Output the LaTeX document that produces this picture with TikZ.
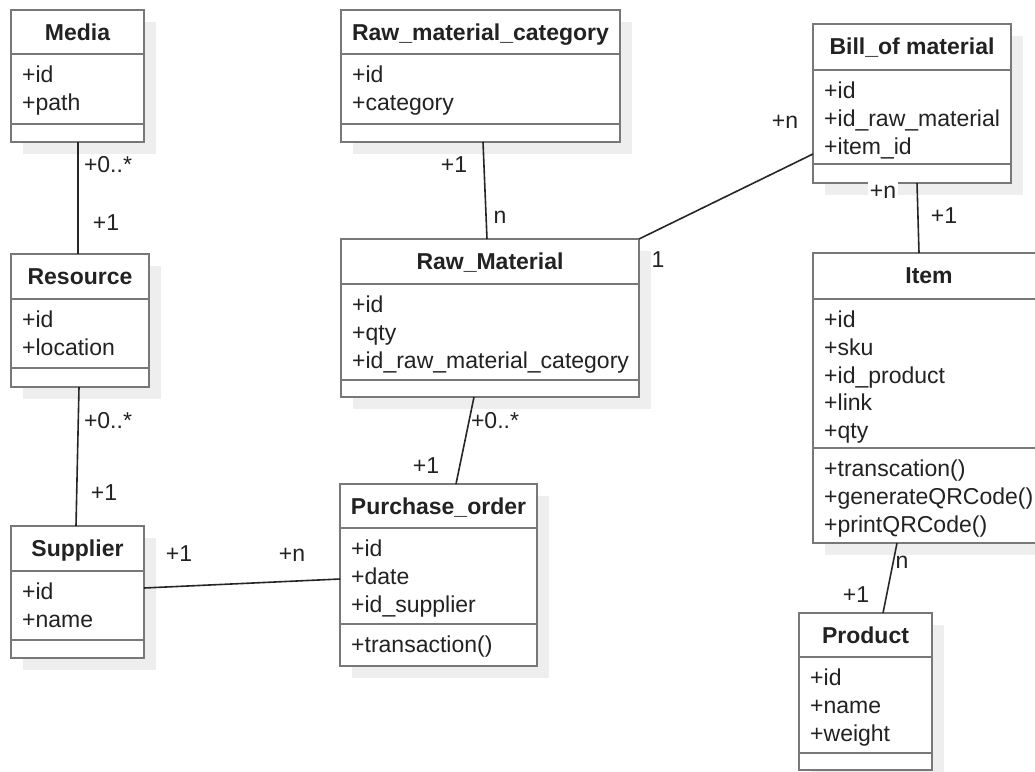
\documentclass[tikz,border=0pt]{standalone}
\usepackage{fontspec}
\setmainfont{Liberation Sans}
\usetikzlibrary{calc,shadows}

\definecolor{umlborder}{HTML}{787878}
\definecolor{umlshadow}{HTML}{EEEEEE}
\definecolor{umltext}{HTML}{222222}
\definecolor{umlline}{HTML}{262626}

\newcommand\umlfont{\fontsize{23}{27.6}\selectfont}

\tikzset{
  classbox/.style={draw=umlborder, line width=2.6pt, fill=white, anchor=north west,
    inner sep=0pt, outer sep=0pt,
    drop shadow={shadow xshift=12pt, shadow yshift=-12pt, fill=umlshadow, opacity=1}},
  classrule/.style={draw=umlborder, line width=2.6pt},
  classname/.style={font=\umlfont\bfseries, text=umltext, anchor=base, inner sep=0pt},
  members/.style={font=\umlfont, text=umltext, anchor=north west, align=left, inner sep=0pt},
  assoc/.style={draw=umlline, line width=1.6pt},
  mult/.style={font=\umlfont, text=umltext, anchor=base, inner sep=0pt},
}

% #1 name, #2 top-left corner, #3 title, #4 width, #5 height,
% #6 offset of the title rule, #7 offset of the member rule, #8 attributes
\newcommand\umlclass[8]{%
  \node[classbox, minimum width=#4, minimum height=#5] (#1) at #2 {};
  \draw[classrule] ($(#1.north west)+(0,#6)$) -- ($(#1.north east)+(0,#6)$);
  \draw[classrule] ($(#1.north west)+(0,#7)$) -- ($(#1.north east)+(0,#7)$);
  \node[classname] (#1-title) at ($(#1.north)+(0,30.5)$) {#3};
  \node[members] (#1-fields) at ($(#1.north west)+(11,#6+12)$) {#8};
}
% operations below the member rule: #1 class, #2 rule offset, #3 text
\newcommand\umlops[3]{%
  \node[members] (#1-ops) at ($(#1.north west)+(11,#2+12)$) {#3};
}

\begin{document}
\begin{tikzpicture}[x=1pt, y=-1pt]
  \useasboundingbox (0,0) rectangle (1035,771);
  \fill[white] (0,0) rectangle (1035,771);
  \clip (0,0) rectangle (1035,771);

  % classes
  \umlclass{media}{(11,10)}{Media}{133}{132}{44}{114}{+id\\+path}
  \umlclass{resource}{(11,254)}{Resource}{138}{133}{45}{114}{+id\\+location}
  \umlclass{supplier}{(11,526)}{Supplier}{133}{132}{45}{114}{+id\\+name}
  \umlclass{rmcat}{(341,10)}{Raw\_material\_category}{279}{132}{44}{114}{+id\\+category}
  \umlclass{rawmat}{(341,239)}{Raw\_Material}{298}{158}{45}{141}{+id\\+qty\\+id\_raw\_material\_category}
  \umlclass{purchase}{(340,484)}{Purchase\_order}{197}{182}{44}{140}{+id\\+date\\+id\_supplier}
  \umlops{purchase}{140}{+transaction()}
  \umlclass{bom}{(813,24)}{Bill\_of material}{198}{159}{46}{140}{+id\\+id\_raw\_material\\+item\_id}
  \umlclass{item}{(813,253)}{Item}{232}{290}{46}{195}{+id\\+sku\\+id\_product\\+link\\+qty}
  \umlops{item}{195}{+transcation()\\+generateQRCode()\\+printQRCode()}
  \umlclass{product}{(799,613)}{Product}{133}{157}{44}{140}{+id\\+name\\+weight}

  % associations
  \draw[assoc] ($(media.south west)+(67,0)$) -- ($(resource.north west)+(67,0)$);
  \draw[assoc] ($(resource.south west)+(68,0)$) -- ($(supplier.north west)+(65,0)$);
  \draw[assoc] ($(supplier.north east)+(0,62)$) -- ($(purchase.north west)+(0,95)$);
  \draw[assoc] ($(rawmat.south west)+(133,0)$) -- ($(purchase.north west)+(116,0)$);
  \draw[assoc] ($(rmcat.south west)+(142,0)$) -- ($(rawmat.north west)+(146,0)$);
  \draw[assoc] (rawmat.north east) -- ($(bom.north west)+(0,130)$);
  \draw[assoc] ($(bom.south west)+(104,0)$) -- ($(item.north west)+(106,0)$);
  \draw[assoc] ($(item.south west)+(84,0)$) -- ($(product.north west)+(84,0)$);

  % multiplicities
  \node[mult] (m1a) at (108,172) {+0..*};
  \node[mult] (m1b) at (106,230) {+1};
  \node[mult] (m2a) at (108,428) {+0..*};
  \node[mult] (m2b) at (104,500) {+1};
  \node[mult] (m3a) at (179,561) {+1};
  \node[mult] (m3b) at (292,561) {+n};
  \node[mult] (m4a) at (495,428) {+0..*};
  \node[mult] (m4b) at (426,473) {+1};
  \node[mult] (m5a) at (454,172) {+1};
  \node[mult] (m5b) at (500,223) {n};
  \node[mult] (m6a) at (658,267) {1};
  \node[mult] (m6b) at (785,128) {+n};
  \node[mult, fill=white, inner xsep=1.5pt, text height=19pt, text depth=2pt] (m7a) at (883,198) {+n};
  \node[mult] (m7b) at (944,223) {+1};
  \node[mult] (m8a) at (902,568) {n};
  \node[mult] (m8b) at (856,602) {+1};
\end{tikzpicture}
\end{document}
